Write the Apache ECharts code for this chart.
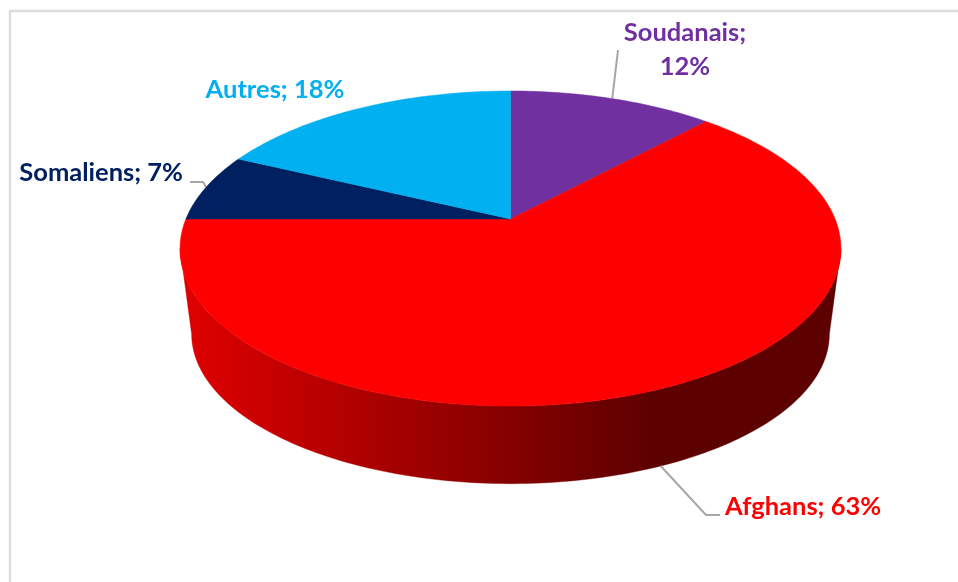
<!DOCTYPE html>
<html><head><meta charset="utf-8">
<style>html,body{margin:0;padding:0;background:#fff}#c{width:958px;height:582px}</style>
<script src="https://cdn.jsdelivr.net/npm/echarts@6/dist/echarts.min.js"></script>
</head><body><div id="c"></div>
<script>
const categories = ['Soudanais', 'Afghans', 'Somaliens', 'Autres'];
const shares = [12, 63, 7, 18];
const sliceColors = ['#7030A0', '#FF0000', '#002060', '#00B0F0'];

// Perspective view of the disc
const view = {cx: 510.5, cy: 219, A: 324.6, B: 152, k: 0.1873, ellipseCy: 248.5,
               bottomCy: 334, bottomSx: 0.965, bottomSy: 0.95};
const tilt = Math.asin(view.k) * 180 / Math.PI;
const visibleFrom = 90 + tilt, visibleTo = 270 - tilt;
function topRim(deg) {
  const t = deg * Math.PI / 180, u = Math.sin(t), v = -Math.cos(t), s = 1 / (1 - view.k * v);
  return [view.cx + view.A * u * s, view.cy + view.B * v * s];
}
function bottomRim(deg) {
  const p = topRim(deg);
  return [view.cx + (p[0] - view.cx) * view.bottomSx,
          view.bottomCy + (p[1] - view.ellipseCy) * view.bottomSy];
}
function arc(fn, a, b) {
  const pts = [], n = Math.max(2, Math.ceil(Math.abs(b - a)));
  for (let i = 0; i <= n; i++) pts.push(fn(a + (b - a) * i / n));
  return pts;
}
const total = shares.reduce((x, y) => x + y, 0);
const redSide = new echarts.graphic.LinearGradient(182, 0, 655, 0, [
  {offset: 0, color: '#e00000'},
  {offset: 1, color: '#5c0000'}
], true);

// Label placement: text anchor, alignment, line break, leader route
const labelFont = 'bold 25.5px Lato';
const labelPlaces = [
  {x: 685, y: 33, wrap: true, lh: 34, leader: from => [[618, 50], from], onBottom: false},
  {x: 725, y: 507, align: 'left', leader: from => [from, [706, 515], [720, 515]], onBottom: true},
  {x: 183, y: 173, align: 'right', leader: from => [[190, 182], [203, 182], from], onBottom: false},
  {x: 275, y: 90, noLeader: true}
];

function renderItem(params, api) {
  const i = params.dataIndex, value = api.value(1), label = categories[i];
  let before = 0;
  for (let j = 0; j < i; j++) before += shares[j];
  const a = before / total * 360, b = (before + value) / total * 360, mid = (a + b) / 2;
  const color = sliceColors[i], children = [];
  // side wall: only the part of the rim that faces the viewer
  const sa = Math.max(a, visibleFrom), sb = Math.min(b, visibleTo);
  if (sb > sa) {
    const side = arc(topRim, sa, sb).concat(arc(bottomRim, sb, sa));
    children.push({type: 'polygon', z2: 2, shape: {points: side},
                   style: {fill: redSide, stroke: redSide, lineWidth: 0.4}});
  }
  // top face
  const face = [[view.cx, view.cy]].concat(arc(topRim, a, b));
  children.push({type: 'polygon', z2: 10, shape: {points: face},
                 style: {fill: color, stroke: color, lineWidth: 0.5}});
  // label
  const L = labelPlaces[i];
  if (!L.noLeader) {
    const from = (L.onBottom ? bottomRim : topRim)(mid);
    children.push({type: 'polyline', z2: 5, shape: {points: L.leader(from)},
                   style: {fill: null, stroke: '#a6a6a6', lineWidth: 2}});
  }
  if (L.wrap) {
    children.push({type: 'text', z2: 20, style: {text: label + ';', x: L.x, y: L.y, fill: color,
      font: labelFont, align: 'center', verticalAlign: 'middle'}});
    children.push({type: 'text', z2: 20, style: {text: value + '%', x: L.x, y: L.y + L.lh, fill: color,
      font: labelFont, align: 'center', verticalAlign: 'middle'}});
  } else {
    children.push({type: 'text', z2: 20, style: {text: label + '; ' + value + '%', x: L.x, y: L.y, fill: color,
      font: labelFont, align: L.align || 'center', verticalAlign: 'middle'}});
  }
  return {type: 'group', children};
}

const chart = echarts.init(document.getElementById('c'), null, {renderer: 'canvas'});
chart.setOption({
  animation: false,
  backgroundColor: '#fff',
  graphic: [
    {type: 'polyline', silent: true, shape: {points: [[10, 582], [10, 11], [958, 11]]},
     style: {fill: null, stroke: '#dcdcdc', lineWidth: 2.4}}
  ],
  series: [{
    type: 'custom',
    coordinateSystem: 'none',
    renderItem,
    silent: true,
    data: categories.map((c, i) => [c, shares[i]])
  }]
});
</script></body></html>
